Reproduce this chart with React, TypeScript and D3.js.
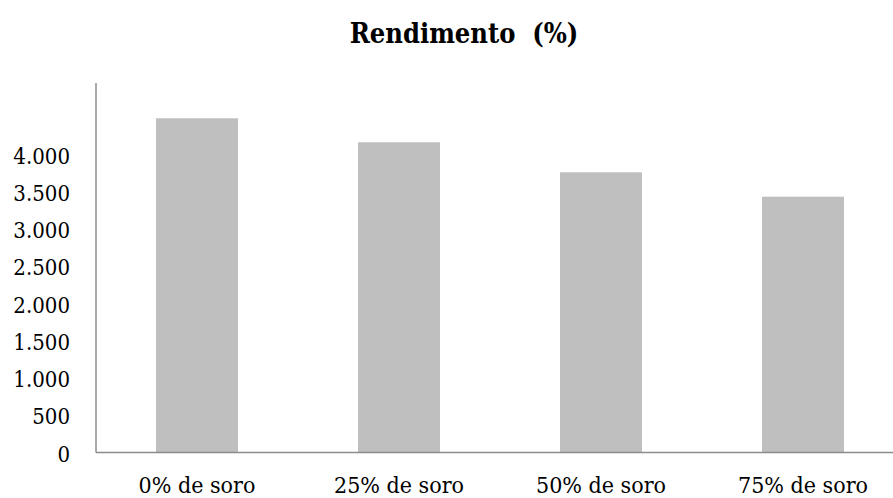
import { useEffect, useRef } from "react";
import * as d3 from "d3";

const categories = ["0% de soro", "25% de soro", "50% de soro", "75% de soro"];
const rendimento = [4486, 4164, 3761, 3434];
const yTicks = [0, 500, 1000, 1500, 2000, 2500, 3000, 3500, 4000];
const yDomainMax = 5000;
const chartTitle = "Rendimento  (%)";

const serif = "'DejaVu Serif Condensed', 'DejaVu Serif', serif";
const fmt = (v: number) => d3.format(",")(v).replace(/,/g, ".");

export default function App() {
  const ref = useRef<SVGSVGElement>(null);

  useEffect(() => {
    const svg = d3.select(ref.current);
    svg.selectAll("*").remove();

    const left = 96;
    const right = 904;
    const bottom = 452.5;
    const top = 80;

    const xScale = d3
      .scaleBand<string>()
      .domain(categories)
      .range([left, right])
      .paddingInner(0.594)
      .paddingOuter(0.297);

    const yScale = d3.scaleLinear().domain([0, yDomainMax]).range([bottom, top]);

    svg
      .append("text")
      .attr("x", 464)
      .attr("y", 43)
      .attr("text-anchor", "middle")
      .attr("font-family", serif)
      .attr("font-stretch", "condensed")
      .attr("font-size", 27)
      .attr("font-weight", "bold")
      .style("white-space", "pre")
      .text(chartTitle);

    svg
      .selectAll("rect.bar")
      .data(rendimento)
      .join("rect")
      .attr("class", "bar")
      .attr("x", (d, i) => xScale(categories[i]) as number)
      .attr("y", (d) => yScale(d))
      .attr("width", xScale.bandwidth())
      .attr("height", (d) => bottom - yScale(d))
      .attr("fill", "#bfbfbf");

    // axis lines, no tick marks
    svg
      .append("line")
      .attr("x1", left)
      .attr("x2", left)
      .attr("y1", yScale(yDomainMax) + 3)
      .attr("y2", bottom)
      .attr("stroke", "#8c8c8c")
      .attr("stroke-width", 1.5);

    svg
      .append("line")
      .attr("x1", left)
      .attr("x2", 893)
      .attr("y1", bottom)
      .attr("y2", bottom)
      .attr("stroke", "#8c8c8c")
      .attr("stroke-width", 1.5);

    svg
      .selectAll("text.ytick")
      .data(yTicks)
      .join("text")
      .attr("class", "ytick")
      .attr("x", 70)
      .attr("y", (d) => yScale(d) + 1.5)
      .attr("dy", "0.35em")
      .attr("text-anchor", "end")
      .attr("font-family", serif)
      .attr("font-stretch", "condensed")
      .attr("font-size", 22)
      .text((d) => fmt(d));

    svg
      .selectAll("text.xlabel")
      .data(categories)
      .join("text")
      .attr("class", "xlabel")
      .attr("x", (d) => (xScale(d) as number) + xScale.bandwidth() / 2)
      .attr("y", 493)
      .attr("text-anchor", "middle")
      .attr("font-family", serif)
      .attr("font-stretch", "condensed")
      .attr("font-size", 23)
      .text((d) => d);
  }, []);

  return (
    <svg
      ref={ref}
      width={893}
      height={498}
      style={{ position: "absolute", left: 0, top: 0, background: "#fff" }}
    />
  );
}
